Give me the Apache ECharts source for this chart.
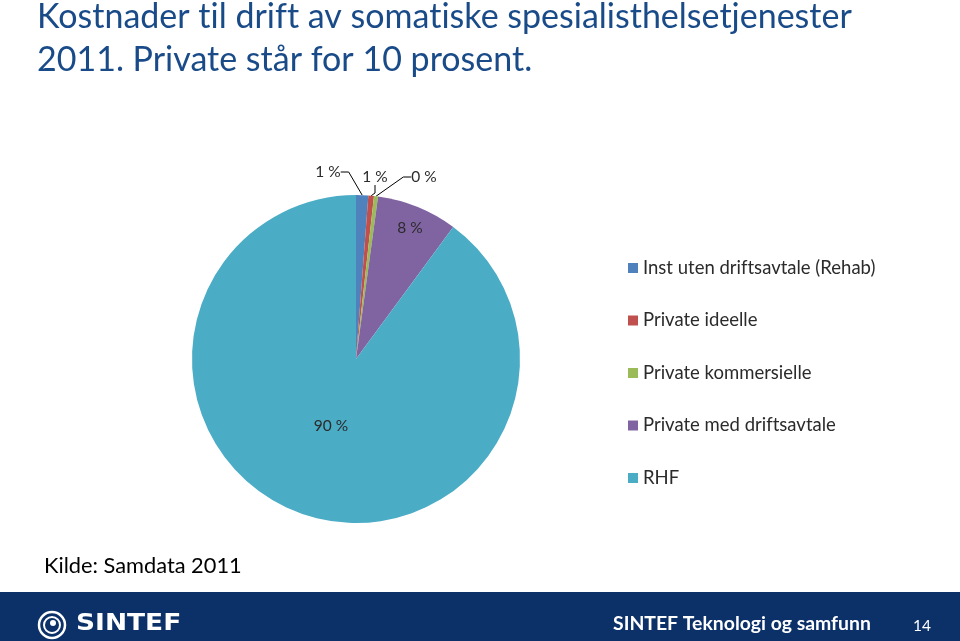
<!DOCTYPE html>
<html>
<head>
<meta charset="utf-8">
<script src="https://cdn.jsdelivr.net/npm/echarts@6/dist/echarts.min.js"></script>
<style>
html,body{margin:0;padding:0;background:#fff;}
#chart{width:960px;height:641px;}
</style>
</head>
<body>
<div id="chart"></div>
<script>
// Data (shares of total cost, percent)
const categories = ['Inst uten driftsavtale (Rehab)', 'Private ideelle', 'Private kommersielle', 'Private med driftsavtale', 'RHF'];
const shares = [1.2, 0.55, 0.4, 7.95, 89.9];
const colors = ['#4F81BD', '#C0504D', '#9BBB59', '#8064A2', '#4BACC6'];
const titleLines = ['Kostnader til drift av somatiske spesialisthelsetjenester', '2011. Private står for 10 prosent.'];
const sourceText = 'Kilde: Samdata 2011';
const footerText = 'SINTEF Teknologi og samfunn';
const pageNo = '14';

// label placement (annotation positions, not data)
const labelPos = [[328,172],[375,177],[424,177],[410,228],[331,426]];
const FONT = 'Lato, "Open Sans", sans-serif';
// avoid the Lato "ti" ligature so the text looks like the original
const noLig = s => s.replace(/ti/g, 't\u200Ci').replace(/ft/g, 'f\u200Ct');

const chart = echarts.init(document.getElementById('chart'));
const option = {
  animation: false,
  color: colors,
  legend: {
    orient: 'vertical',
    left: 623,
    top: 253,
    itemWidth: 10,
    itemHeight: 10,
    itemGap: 32.5,
    icon: 'rect',
    formatter: name => noLig(name),
    textStyle: { fontFamily: FONT, fontSize: 18.5, color: '#2b2b2b', lineHeight: 20 },
    data: categories
  },
  graphic: [
    { type: 'text', left: 37, top: 0, style: { text: noLig(titleLines[0]), font: '34px ' + FONT, fill: '#1A4B89' } },
    { type: 'text', left: 37, top: 43, style: { text: noLig(titleLines[1]), font: '34px ' + FONT, fill: '#1A4B89' } },
    { type: 'text', left: 44, top: 555, style: { text: sourceText, font: '21.8px ' + FONT, fill: '#000' } },
    { type: 'rect', left: 0, top: 592, shape: { width: 960, height: 49 }, style: { fill: '#0C3068' } },
    { type: 'circle', shape: { cx: 52, cy: 625, r: 13 }, style: { fill: 'none', stroke: '#fff', lineWidth: 2.5 } },
    { type: 'circle', shape: { cx: 52, cy: 625, r: 8 }, style: { fill: 'none', stroke: '#fff', lineWidth: 2 } },
    { type: 'circle', shape: { cx: 53, cy: 623, r: 3 }, style: { fill: '#fff' } },
    { type: 'text', x: 76, y: 613, scaleX: 1.15, style: { text: 'SINTEF', font: 'bold 23px "DejaVu Sans", sans-serif', fill: '#fff' } },
    { type: 'text', left: 613, top: 614, style: { text: footerText, font: 'bold 19.4px ' + FONT, fill: '#fff' } },
    { type: 'text', left: 913, top: 618, style: { text: pageNo, font: '15.5px ' + FONT, fill: '#fff' } }
  ],
  series: [{
    type: 'pie',
    center: [356, 359],
    radius: 164,
    startAngle: 90,
    clockwise: true,
    avoidLabelOverlap: false,
    label: {
      show: true,
      fontFamily: FONT,
      fontSize: 15.5,
      color: '#2b2b2b',
      formatter: p => Math.round(p.value) + ' %'
    },
    labelLine: { show: true, length: 8, length2: 8, lineStyle: { color: '#000', width: 1 } },
    labelLayout: function (params) {
      const p = labelPos[params.dataIndex];
      return { x: p[0], y: p[1], align: 'center', verticalAlign: 'middle' };
    },
    itemStyle: { borderWidth: 0 },
    emphasis: { disabled: true },
    data: categories.map((name, i) => ({
      name: name,
      value: shares[i],
      label: { position: i < 3 ? 'outside' : 'inside' },
      labelLine: { show: i < 3 }
    }))
  }]
};
chart.setOption(option);
</script>
</body>
</html>
